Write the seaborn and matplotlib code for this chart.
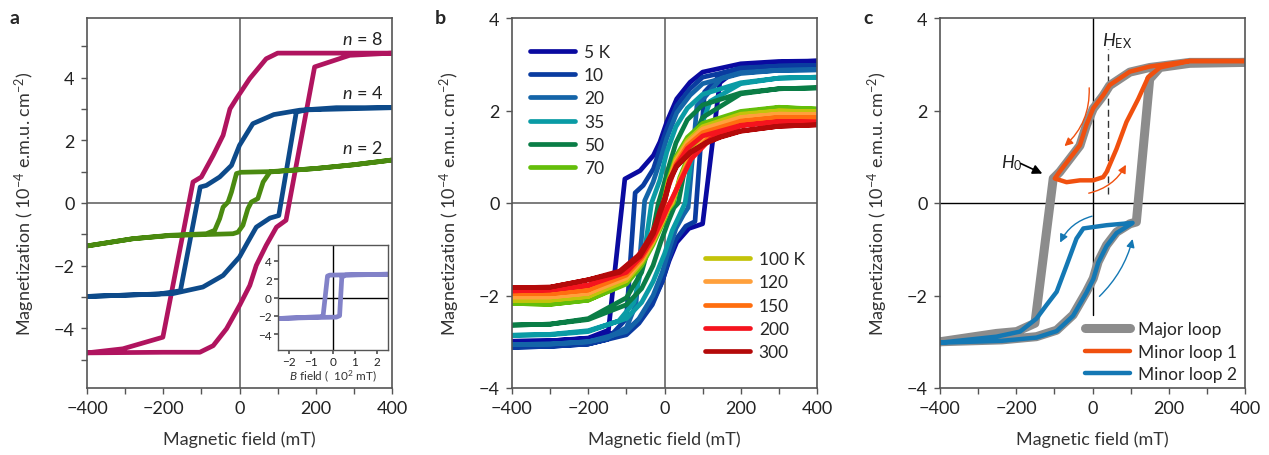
import matplotlib
matplotlib.use('Agg')
import matplotlib.pyplot as plt
import seaborn as sns

# ---------------- panel a : loops for n = 8, 4, 2 (field in mT, M in 1e-4 emu/cm2)
n8_x = [400, 300, 200, 100, 70, 27, -8, -25, -43, -69, -100, -122, -201, -306, -400,
        -400, -300, -200, -104, -69, -34, 0, 27, 44, 70, 97, 122, 197, 289, 400]
n8_y = [4.78, 4.78, 4.78, 4.78, 4.6, 3.97, 3.33, 3.0, 2.16, 1.52, 0.83, 0.67, -4.28, -4.65, -4.78,
        -4.78, -4.77, -4.76, -4.76, -4.55, -4.01, -3.27, -2.63, -1.99, -1.35, -0.77, -0.55, 4.34, 4.71, 4.78]

n4_x = [400, 254, 158, 90, 35, 0, -21, -52, -87, -103, -155, -210, -400,
        -400, -175, -96, -43, 0, 22, 44, 80, 103, 149, 175, 400]
n4_y = [3.04, 3.04, 2.96, 2.82, 2.53, 1.84, 1.2, 0.83, 0.56, 0.51, -2.8, -2.9, -2.98,
        -2.98, -2.89, -2.68, -2.31, -1.72, -1.24, -0.77, -0.48, -0.4, 2.9, 2.97, 3.04]

n2_x = [400, 300, 200, 80, 4, -8, -21, -30, -43, -52, -65, -87, -183, -280, -400,
        -400, -280, -183, -17, -4, 9, 22, 31, 48, 62, 80, 200, 300, 400]
n2_y = [1.37, 1.22, 1.1, 1.0, 0.98, 0.94, 0.35, 0.03, -0.13, -0.5, -0.87, -0.98, -1.03, -1.14, -1.37,
        -1.37, -1.14, -1.04, -0.98, -0.93, -0.71, -0.18, 0.03, 0.14, 0.67, 0.99, 1.1, 1.22, 1.37]

# inset (B field in 1e2 mT)
inset_x = [2.5, 1.0, -0.15, -0.25, -0.45, -0.55, -1.5, -2.5, -2.5, -1.0, 0.15, 0.3, 0.4, 0.55, 1.5, 2.5]
inset_y = [2.55, 2.5, 2.45, 2.35, -2.0, -2.1, -2.2, -2.3, -2.3, -2.2, -2.15, -2.0, 2.2, 2.45, 2.5, 2.55]

# ---------------- panel b : temperature series
k5_x = [400, 300, 200, 100, 67, 32, 6, -12, -29, -64, -104, -147, -200, -300, -400,
        -400, -300, -200, -100, -64, -29, -6, 12, 32, 64, 100, 145, 200, 300, 400]
k5_y = [3.07, 3.06, 3.01, 2.83, 2.61, 2.25, 1.75, 1.32, 1.03, 0.70, 0.52, -2.75, -2.92, -2.98, -2.99,
        -2.99, -2.98, -2.93, -2.75, -2.5, -2.1, -1.7, -1.25, -0.85, -0.55, -0.45, 2.6, 2.95, 3.04, 3.07]

k10_x = [400, 300, 200, 100, 67, 32, 6, -12, -29, -56, -77, -100, -150, -200, -300, -400,
         -400, -300, -200, -100, -67, -32, -6, 12, 29, 56, 80, 105, 150, 200, 300, 400]
k10_y = [2.97, 2.96, 2.9, 2.72, 2.47, 2.1, 1.6, 1.17, 0.74, 0.38, 0.22, -2.5, -2.95, -3.05, -3.1, -3.12,
         -3.12, -3.1, -3.05, -2.85, -2.6, -2.2, -1.7, -1.2, -0.8, -0.5, -0.4, 2.4, 2.8, 2.92, 2.96, 2.97]

k20_x = [400, 300, 200, 100, 67, 32, 6, -12, -30, -52, -75, -100, -150, -200, -300, -400,
         -400, -300, -200, -100, -67, -30, -6, 12, 30, 50, 62, 85, 150, 200, 300, 400]
k20_y = [2.88, 2.87, 2.8, 2.58, 2.33, 1.95, 1.4, 0.9, 0.45, 0.05, -2.2, -2.7, -2.92, -3.0, -3.05, -3.06,
         -3.06, -3.05, -3.0, -2.78, -2.5, -2.0, -1.5, -1.0, -0.55, -0.25, -0.1, 2.1, 2.7, 2.82, 2.87, 2.88]

k35_x = [400, 300, 200, 100, 60, 30, 6, -12, -34, -55, -80, -120, -200, -300, -400,
         -400, -300, -200, -100, -60, -30, 0, 20, 40, 54, 75, 120, 200, 300, 400]
k35_y = [2.72, 2.7, 2.6, 2.35, 2.05, 1.65, 1.1, 0.5, 0.0, -1.2, -2.15, -2.55, -2.78, -2.85, -2.86,
         -2.86, -2.84, -2.76, -2.5, -2.15, -1.7, -1.1, -0.6, -0.25, 0.0, 1.2, 2.2, 2.58, 2.7, 2.72]

k50_x = [400, 300, 200, 100, 60, 30, 10, -5, -16, -30, -60, -100, -200, -300, -400,
         -400, -300, -200, -100, -60, -30, -10, 10, 25, 36, 50, 70, 100, 200, 300, 400]
k50_y = [2.49, 2.47, 2.38, 2.12, 1.8, 1.3, 0.75, 0.3, 0.0, -0.6, -1.5, -2.05, -2.5, -2.62, -2.64,
         -2.64, -2.62, -2.52, -2.2, -1.85, -1.35, -0.85, -0.4, -0.1, 0.0, 0.6, 1.3, 1.85, 2.36, 2.47, 2.49]

k70_x = [400, 300, 200, 100, 60, 30, 10, -3, -15, -40, -70, -120, -200, -300, -400,
         -400, -300, -200, -100, -60, -30, -5, 10, 23, 40, 70, 120, 200, 300, 400]
k70_y = [2.03, 2.07, 1.98, 1.72, 1.42, 1.0, 0.5, 0.0, -0.35, -0.9, -1.4, -1.8, -2.1, -2.19, -2.17,
         -2.17, -2.19, -2.1, -1.75, -1.35, -0.9, -0.45, -0.15, 0.0, 0.55, 1.15, 1.6, 1.96, 2.06, 2.03]

k100_x = [400, 300, 200, 100, 60, 30, 10, -2, -15, -40, -70, -120, -200, -300, -400,
          -400, -300, -200, -100, -60, -30, -5, 10, 20, 40, 70, 120, 200, 300, 400]
k100_y = [1.97, 1.99, 1.92, 1.65, 1.35, 0.95, 0.45, 0.0, -0.35, -0.85, -1.3, -1.7, -2.02, -2.1, -2.1,
          -2.1, -2.1, -2.02, -1.68, -1.28, -0.85, -0.4, -0.12, 0.0, 0.5, 1.1, 1.55, 1.9, 1.99, 1.97]

k120_x = [400, 300, 200, 100, 60, 30, 10, -1, -15, -40, -70, -120, -200, -300, -400,
          -400, -300, -200, -100, -60, -30, -5, 10, 18, 40, 70, 120, 200, 300, 400]
k120_y = [1.91, 1.92, 1.85, 1.6, 1.3, 0.9, 0.4, 0.0, -0.35, -0.85, -1.25, -1.62, -1.95, -2.03, -2.03,
          -2.03, -2.03, -1.95, -1.62, -1.24, -0.82, -0.38, -0.1, 0.0, 0.48, 1.05, 1.5, 1.84, 1.92, 1.91]

k150_x = [400, 300, 200, 100, 60, 30, 10, 0, -15, -40, -70, -120, -200, -300, -400,
          -400, -300, -200, -100, -60, -30, -5, 10, 16, 40, 70, 120, 200, 300, 400]
k150_y = [1.84, 1.85, 1.77, 1.52, 1.24, 0.85, 0.38, 0.02, -0.35, -0.82, -1.2, -1.56, -1.88, -1.96, -1.96,
          -1.96, -1.96, -1.88, -1.56, -1.2, -0.8, -0.36, -0.08, 0.0, 0.46, 1.0, 1.44, 1.76, 1.85, 1.84]

k200_x = [400, 300, 200, 100, 60, 30, 10, 0, -15, -40, -70, -120, -200, -300, -400,
          -400, -300, -200, -100, -60, -30, -5, 10, 14, 40, 70, 120, 200, 300, 400]
k200_y = [1.75, 1.76, 1.68, 1.45, 1.18, 0.8, 0.35, 0.05, -0.32, -0.78, -1.15, -1.5, -1.78, -1.88, -1.9,
          -1.9, -1.88, -1.78, -1.5, -1.15, -0.76, -0.34, -0.06, 0.0, 0.44, 0.95, 1.38, 1.67, 1.76, 1.75]

k300_x = [400, 300, 200, 146, 111, 67, 32, 14, 1, -12, -29, -64, -117, -200, -300, -400,
          -400, -300, -200, -117, -64, -29, -12, 1, 14, 32, 67, 111, 146, 200, 300, 400]
k300_y = [1.69, 1.66, 1.56, 1.43, 1.32, 1.10, 0.81, 0.52, 0.12, -0.17, -0.6, -1.1, -1.47, -1.66, -1.82, -1.83,
          -1.83, -1.82, -1.66, -1.5, -1.15, -0.66, -0.22, 0.06, 0.48, 0.79, 1.08, 1.3, 1.42, 1.55, 1.66, 1.69]

temp_labels = ['5 K', '10', '20', '35', '50', '70', '100 K', '120', '150', '200', '300']
temp_colors = ['#0a0aa0', '#0a3ca0', '#1464a8', '#0a9ba5', '#0a7d46', '#64be0a',
               '#c3c30a', '#ffa03c', '#ff6e0f', '#f5141e', '#b40a0a']

# ---------------- panel c : major and minor loops
major_x = [400, 255, 150, 98, 45, 28, 2, -16, -33, -59, -86, -103, -151, -199, -252, -400,
           -400, -238, -147, -94, -51, -16, 2, 15, 37, 63, 98, 115, 150, 177, 255, 400]
major_y = [3.04, 3.04, 2.93, 2.83, 2.54, 2.32, 2.04, 1.68, 1.24, 0.96, 0.67, 0.53, -2.6, -2.78, -2.82, -3.0,
           -3.0, -2.96, -2.89, -2.75, -2.42, -1.92, -1.63, -1.27, -0.91, -0.63, -0.45, -0.41, 2.68, 2.93, 3.02, 3.04]

minor1_x = [400, 255, 150, 98, 45, 28, 2, -16, -33, -59, -86, -99, -68, -33, 2, 28, 37, 63, 89, 120, 146, 177, 255, 400]
minor1_y = [3.07, 3.07, 2.95, 2.84, 2.55, 2.33, 2.05, 1.69, 1.25, 0.97, 0.68, 0.53, 0.45, 0.49, 0.49, 0.56, 0.67,
            1.17, 1.75, 2.25, 2.72, 2.93, 3.07, 3.07]

minor2_x = [-400, -238, -147, -94, -51, -16, 2, 15, 37, 63, 98, 105, 37, -24, -42, -68, -94, -121, -147, -190, -252, -400]
minor2_y = [-3.02, -2.98, -2.91, -2.77, -2.44, -1.94, -1.65, -1.29, -0.93, -0.65, -0.47, -0.43, -0.48, -0.55, -0.77,
            -1.35, -1.92, -2.21, -2.5, -2.78, -2.89, -3.02]

loop_labels = ['Major loop', 'Minor loop 1', 'Minor loop 2']
loop_colors = ['#8c8c8c', '#f0500f', '#1478b4']

# ---------------- style
sns.set_theme(style='ticks')
plt.rcParams['font.family'] = ['Lato', 'DejaVu Sans']
plt.rcParams['mathtext.fontset'] = 'custom'
plt.rcParams['mathtext.rm'] = 'Lato'
plt.rcParams['mathtext.it'] = 'Lato:italic'
plt.rcParams['lines.solid_joinstyle'] = 'round'
plt.rcParams['axes.edgecolor'] = '#555555'
plt.rcParams['xtick.color'] = '#555555'
plt.rcParams['ytick.color'] = '#555555'
plt.rcParams['xtick.labelcolor'] = '#222222'
plt.rcParams['ytick.labelcolor'] = '#222222'

FS = 13
LFS = 12.5
LW = 3.4
fig = plt.figure(figsize=(12.69, 4.56), dpi=100)
W, H = 1269, 456
ax_a = fig.add_axes([87 / W, 67 / H, 305 / W, 370 / H])
ax_b = fig.add_axes([512 / W, 67 / H, 305 / W, 370 / H])
ax_c = fig.add_axes([940 / W, 67 / H, 305 / W, 370 / H])


def style_axes(ax, ylim, minor_y=None):
    ax.set_xlim(-400, 400)
    ax.set_ylim(*ylim)
    ax.set_xticks([-400, -200, 0, 200, 400])
    ax.set_xticks([-300, -100, 100, 300], minor=True)
    ax.set_yticks([-4, -2, 0, 2, 4])
    if minor_y is not None:
        ax.set_yticks(minor_y, minor=True)
    ax.tick_params(which='both', direction='out', labelsize=FS, width=1, pad=5)
    ax.tick_params(which='major', length=4)
    ax.tick_params(which='minor', length=4)
    for s in ax.spines.values():
        s.set_linewidth(1.2)
        s.set_visible(True)
    ax.set_xlabel('Magnetic field (mT)', fontsize=FS, color='#333333')
    ax.set_ylabel('Magnetization ( 10$^{-4}$ e.m.u. cm$^{-2}$)', fontsize=FS, color='#333333')
    ax.xaxis.set_label_coords(0.5, -0.115)
    ax.yaxis.set_label_coords(-0.165, 0.5)


# ---- panel a
style_axes(ax_a, (-5.9, 5.9), minor_y=[-5, -3, -1, 1, 3, 5])
ax_a.axhline(0, color='#666666', lw=1.2, zorder=0)
ax_a.axvline(0, color='#666666', lw=1.2, zorder=0)
for xs, ys, c in [(n8_x, n8_y, '#b0145f'), (n4_x, n4_y, '#0d4a8a'), (n2_x, n2_y, '#4a8a10')]:
    sns.lineplot(x=xs, y=ys, sort=False, estimator=None, color=c, lw=LW, ax=ax_a)
ax_a.text(268, 5.24, '$n$ = 8', fontsize=FS, va='center', color='#222222')
ax_a.text(268, 3.54, '$n$ = 4', fontsize=FS, va='center', color='#222222')
ax_a.text(268, 1.77, '$n$ = 2', fontsize=FS, va='center', color='#222222')

ax_in = fig.add_axes([278 / W, 105 / H, 110 / W, 105 / H])
ax_in.set_xlim(-2.5, 2.5)
ax_in.set_ylim(-5.75, 5.75)
ax_in.axhline(0, color='black', lw=1, zorder=0)
ax_in.axvline(0, color='black', lw=1, zorder=0)
sns.lineplot(x=inset_x, y=inset_y, sort=False, estimator=None, color='#8282c8', lw=LW, ax=ax_in)
ax_in.set_xticks([-2, -1, 0, 1, 2])
ax_in.set_yticks([-4, -2, 0, 2, 4])
ax_in.tick_params(direction='out', labelsize=8.5, length=3, pad=1.5)
for s in ax_in.spines.values():
    s.set_visible(True)
    s.set_linewidth(1)
ax_in.set_xlabel('$B$ field (  10$^2$ mT)', fontsize=8.5, labelpad=0, color='#333333')
ax_in.set_ylabel('')

# ---- panel b
style_axes(ax_b, (-4, 4))
ax_b.axhline(0, color='#666666', lw=1.2, zorder=0)
ax_b.axvline(0, color='#666666', lw=1.2, zorder=0)
b_x = [k5_x, k10_x, k20_x, k35_x, k50_x, k70_x, k100_x, k120_x, k150_x, k200_x, k300_x]
b_y = [k5_y, k10_y, k20_y, k35_y, k50_y, k70_y, k100_y, k120_y, k150_y, k200_y, k300_y]
for xs, ys, c, lab in zip(b_x, b_y, temp_colors, temp_labels):
    sns.lineplot(x=xs, y=ys, sort=False, estimator=None, color=c, lw=LW, ax=ax_b, label=lab)
handles, labels = ax_b.get_legend_handles_labels()
for h in handles:
    h.set_solid_capstyle('round')
leg1 = ax_b.legend(handles[:6], labels[:6], loc='upper left', bbox_to_anchor=(0.06, 0.93),
                   frameon=False, fontsize=LFS, handlelength=2.6, handletextpad=0.5,
                   labelspacing=0.42, borderpad=0, borderaxespad=0)
ax_b.add_artist(leg1)
ax_b.legend(handles[6:], labels[6:], loc='lower right', bbox_to_anchor=(0.96, 0.075),
            frameon=False, fontsize=LFS, handlelength=2.6, handletextpad=0.5,
            labelspacing=0.42, borderpad=0, borderaxespad=0)

# ---- panel c
style_axes(ax_c, (-4, 4))
ax_c.axhline(0, color='black', lw=1, zorder=0)
ax_c.plot([0, 0], [-2.42, 4], color='black', lw=1, zorder=0)
ax_c.plot([41, 41], [0.2, 3.33], color='#333333', lw=1, ls=(0, (5, 3)), zorder=0)
c_x = [major_x, minor1_x, minor2_x]
c_y = [major_y, minor1_y, minor2_y]
for xs, ys, c, lab, lw in zip(c_x, c_y, loop_colors, loop_labels, [6.5, 3.2, 3.2]):
    sns.lineplot(x=xs, y=ys, sort=False, estimator=None, color=c, lw=lw, ax=ax_c, label=lab)
handles, labels = ax_c.get_legend_handles_labels()
for h in handles:
    h.set_solid_capstyle('round')
ax_c.legend(handles, labels, loc='lower right', bbox_to_anchor=(0.975, 0.015),
            frameon=False, fontsize=LFS, handlelength=2.6, handletextpad=0.5,
            labelspacing=0.38, borderpad=0, borderaxespad=0)
ax_c.text(24, 3.42, '$H_{\\mathrm{EX}}$', fontsize=FS, color='#222222')
ax_c.text(-240, 0.78, '$H_0$', fontsize=FS, color='#222222')
ax_c.annotate('', xy=(-125, 0.61), xytext=(-195, 0.88),
              arrowprops=dict(arrowstyle='-|>', color='black', lw=1.2, mutation_scale=14))
arrow_specs = [((-9, 2.55), (-79, 1.19), loop_colors[1], -0.25),
               ((-17, 0.2), (91, 0.88), loop_colors[1], 0.25),
               ((6, -0.27), (-88, -0.91), loop_colors[2], 0.25),
               ((13, -2.06), (107, -0.72), loop_colors[2], 0.15)]
for start, end, c, rad in arrow_specs:
    ax_c.annotate('', xy=end, xytext=start,
                  arrowprops=dict(arrowstyle='-|>', color=c, lw=1,
                                  mutation_scale=12, connectionstyle='arc3,rad=%s' % rad))

# panel letters
fig.text(10 / W, 1 - 24 / H, 'a', fontsize=14, weight='bold')
fig.text(435 / W, 1 - 24 / H, 'b', fontsize=14, weight='bold')
fig.text(863 / W, 1 - 24 / H, 'c', fontsize=14, weight='bold')

fig.savefig('out.png', dpi=100)
